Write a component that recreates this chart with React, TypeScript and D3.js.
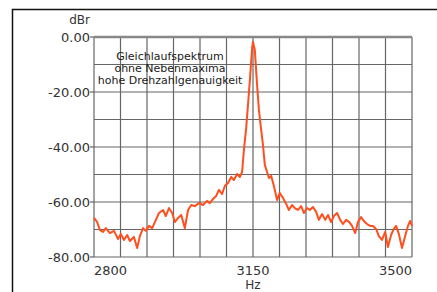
import { useEffect, useRef } from 'react';
import * as d3 from 'd3';

// spectrum: frequency (Hz) and level (dBr)
const freqs = [
  2800, 2807, 2813, 2820, 2826, 2835, 2844, 2853, 2859, 2866, 2873, 2879, 2888, 2895, 2901, 2908,
  2914, 2921, 2928, 2934, 2943, 2952, 2958, 2965, 2972, 2978, 2985, 2992, 3000, 3007, 3014, 3022,
  3031, 3040, 3049, 3055, 3062, 3069, 3075, 3082, 3088, 3095, 3102, 3108, 3115, 3121, 3126, 3130,
  3135, 3139, 3144, 3148, 3150, 3154, 3159, 3163, 3168, 3172, 3176, 3181, 3185, 3190, 3196, 3203,
  3209, 3216, 3223, 3229, 3236, 3242, 3249, 3256, 3262, 3269, 3275, 3282, 3289, 3295, 3302, 3309,
  3315, 3322, 3328, 3335, 3342, 3348, 3355, 3362, 3368, 3375, 3381, 3388, 3394, 3401, 3408, 3414,
  3421, 3427, 3434, 3441, 3447, 3454, 3460, 3465, 3471, 3478, 3485, 3491, 3496, 3500,
];
const levels = [
  -65.8, -67.3, -70.2, -70.9, -69.5, -71.3, -70.5, -73.5, -71.6, -73.8, -72.0, -74.2, -72.7, -76.7, -72.4, -69.5,
  -70.5, -68.7, -69.5, -67.3, -64.0, -62.9, -65.1, -62.2, -64.0, -67.3, -65.8, -64.7, -69.5, -62.9, -61.1, -61.5,
  -60.4, -61.1, -59.6, -60.4, -58.9, -57.8, -55.6, -57.1, -54.2, -53.1, -50.9, -52.0, -49.8, -50.9, -49.1, -41.1,
  -33.1, -24.7, -13.8, -4.0, -1.8, -4.7, -17.5, -26.5, -33.8, -39.3, -46.5, -49.1, -51.3, -50.5, -54.2, -59.3,
  -56.7, -58.5, -60.7, -62.9, -61.1, -62.2, -62.9, -61.5, -64.0, -62.2, -62.9, -61.8, -63.6, -66.5, -64.4, -66.5,
  -64.7, -67.3, -65.1, -64.0, -66.5, -68.0, -66.5, -67.3, -68.7, -71.3, -67.3, -65.5, -66.9, -68.0, -68.7, -68.7,
  -69.8, -72.4, -73.8, -70.9, -76.4, -72.0, -69.8, -68.7, -71.6, -76.7, -72.4, -68.7, -66.9, -68.7,
];

const xTicks = [2800, 3150, 3500];
const yTicks = [0, -20, -40, -60, -80];
const notes = ['Gleichlaufspektrum', 'ohne Nebenmaxima', 'hohe Drehzahlgenauigkeit'];

export default function App() {
  const svgRef = useRef<SVGSVGElement>(null);

  useEffect(() => {
    if (!svgRef.current) return;
    const svg = d3.select(svgRef.current);
    svg.selectAll('*').remove();

    const width = 437;
    const height = 292;
    const margin = { top: 37, right: 25, bottom: 35, left: 94 };
    const innerWidth = width - margin.left - margin.right;
    const innerHeight = height - margin.top - margin.bottom;
    const font = '"DejaVu Sans", sans-serif';

    svg.append('rect').attr('width', width).attr('height', height).attr('fill', '#fff');

    // outer frame
    svg.append('path')
      .attr('d', `M12.5,${height} V9.5 H${width}`)
      .attr('fill', 'none')
      .attr('stroke', '#111')
      .attr('stroke-width', 1.5);

    const g = svg.append('g').attr('transform', `translate(${margin.left},${margin.top})`);

    const x = d3.scaleLinear().domain([2800, 3500]).range([0, innerWidth]);
    const y = d3.scaleLinear().domain([-80, 0]).range([innerHeight, 0]);

    // grid
    const xGrid = d3.range(0, 13).map(i => 2800 + (i * 700) / 12);
    const yGrid = d3.range(-80, 1, 10);
    g.selectAll('.vg')
      .data(xGrid)
      .join('line')
      .attr('x1', d => x(d)).attr('x2', d => x(d))
      .attr('y1', 0).attr('y2', innerHeight)
      .attr('stroke', '#666')
      .attr('stroke-width', 1.2);
    g.selectAll('.hg')
      .data(yGrid)
      .join('line')
      .attr('x1', 0).attr('x2', innerWidth)
      .attr('y1', d => y(d)).attr('y2', d => y(d))
      .attr('stroke', '#666')
      .attr('stroke-width', 1.2);
    g.append('line')
      .attr('x1', 0).attr('x2', innerWidth)
      .attr('y1', 0).attr('y2', 0)
      .attr('stroke', '#888')
      .attr('stroke-width', 2.5);

    // y ticks and labels
    g.selectAll('.yt')
      .data(yTicks)
      .join('line')
      .attr('x1', -4).attr('x2', 0)
      .attr('y1', d => y(d)).attr('y2', d => y(d))
      .attr('stroke', '#666')
      .attr('stroke-width', 1.2);
    g.selectAll('.yl')
      .data(yTicks)
      .join('text')
      .attr('x', -4)
      .attr('y', d => y(d) + 4.5)
      .attr('text-anchor', 'end')
      .attr('font-family', font)
      .attr('font-size', 13)
      .attr('fill', '#333')
      .text(d => d.toFixed(2));
    g.append('text')
      .attr('x', -4)
      .attr('y', -13)
      .attr('text-anchor', 'end')
      .attr('font-family', font)
      .attr('font-size', 12)
      .attr('fill', '#333')
      .text('dBr');

    // x labels
    const anchors = ['start', 'middle', 'end'];
    g.selectAll('.xl')
      .data(xTicks)
      .join('text')
      .attr('x', d => x(d))
      .attr('y', innerHeight + 18)
      .attr('text-anchor', (_, i) => anchors[i])
      .attr('font-family', font)
      .attr('font-size', 13)
      .attr('fill', '#333')
      .text(d => String(d));
    g.append('text')
      .attr('x', x(3150))
      .attr('y', innerHeight + 32)
      .attr('text-anchor', 'middle')
      .attr('font-family', font)
      .attr('font-size', 12)
      .attr('fill', '#333')
      .text('Hz');

    // annotation
    g.selectAll('.note')
      .data(notes)
      .join('text')
      .attr('x', 76)
      .attr('y', (_, i) => 23 + i * 12)
      .attr('text-anchor', 'middle')
      .attr('font-family', font)
      .attr('font-size', 11)
      .attr('fill', '#1a1a1a')
      .text(d => d);

    // spectrum
    const pts = freqs.map((f, i) => [f, levels[i]] as [number, number]);
    const line = d3.line<[number, number]>()
      .x(d => x(d[0]))
      .y(d => y(d[1]));
    g.append('path')
      .datum(pts)
      .attr('fill', 'none')
      .attr('stroke', '#ff4f1f')
      .attr('stroke-width', 2)
      .attr('stroke-linejoin', 'round')
      .attr('d', line);
  }, []);

  return (
    <svg
      ref={svgRef}
      width={437}
      height={292}
      style={{ position: 'absolute', left: 0, top: 0 }}
    />
  );
}
